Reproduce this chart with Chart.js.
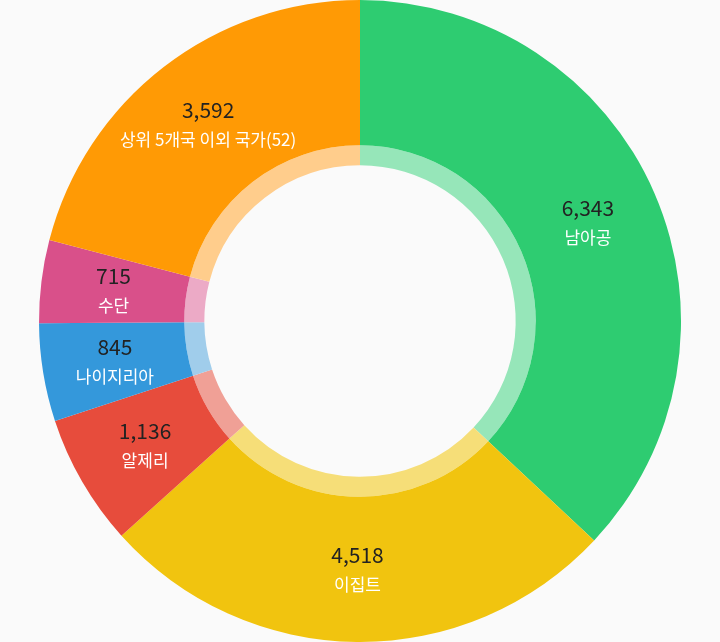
<!DOCTYPE html>
<html><head><meta charset="utf-8">
<script src="https://cdn.jsdelivr.net/npm/chart.js@4"></script>
<style>html,body{margin:0;padding:0;background:#fafafa}#w{width:720px;height:642px}</style>
</head><body><div id="w"><canvas id="c"></canvas></div>
<script>
const categories = ["남아공","이집트","알제리","나이지리아","수단","상위 5개국 이외 국가(52)"];
const values = [6343,4518,1136,845,715,3592];
const colors = ["#2ecc71","#f1c40f","#e74c3c","#3498db","#d9508a","#ff9a05"];
const light = ["rgba(150,230,185,1)","rgba(246,222,120,1)","rgba(240,160,150,1)","rgba(160,205,235,1)","rgba(236,170,198,1)","rgba(255,205,140,1)"];
const labelPlugin = {
  id:'lbl',
  afterDatasetsDraw(chart){
    const ctx = chart.ctx;
    const meta = chart.getDatasetMeta(0);
    meta.data.forEach((arc,i)=>{
      const p = arc.getCenterPoint();
      ctx.save();
      ctx.textAlign='center';ctx.textBaseline='middle';
      ctx.fillStyle='#222';
      ctx.font='21px "Noto Sans CJK KR", Roboto, sans-serif';
      ctx.fillText(values[i].toLocaleString('en-US'), p.x, p.y-14);
      ctx.fillStyle='#fff';
      ctx.font='17px "Noto Sans CJK KR", sans-serif';
      ctx.fillText(categories[i], p.x, p.y+15);
      ctx.restore();
    });
  }
};
new Chart(document.getElementById('c'),{
  type:'doughnut',
  data:{labels:categories,datasets:[
    {data:values,backgroundColor:colors,borderWidth:0,weight:145},
    {data:values,backgroundColor:light,borderWidth:0,weight:20}
  ]},
  options:{responsive:true,maintainAspectRatio:false,animation:false,cutout:'48.5%',
    layout:{padding:0},
    plugins:{legend:{display:false},tooltip:{enabled:false}}},
  plugins:[labelPlugin]
});
</script></body></html>
